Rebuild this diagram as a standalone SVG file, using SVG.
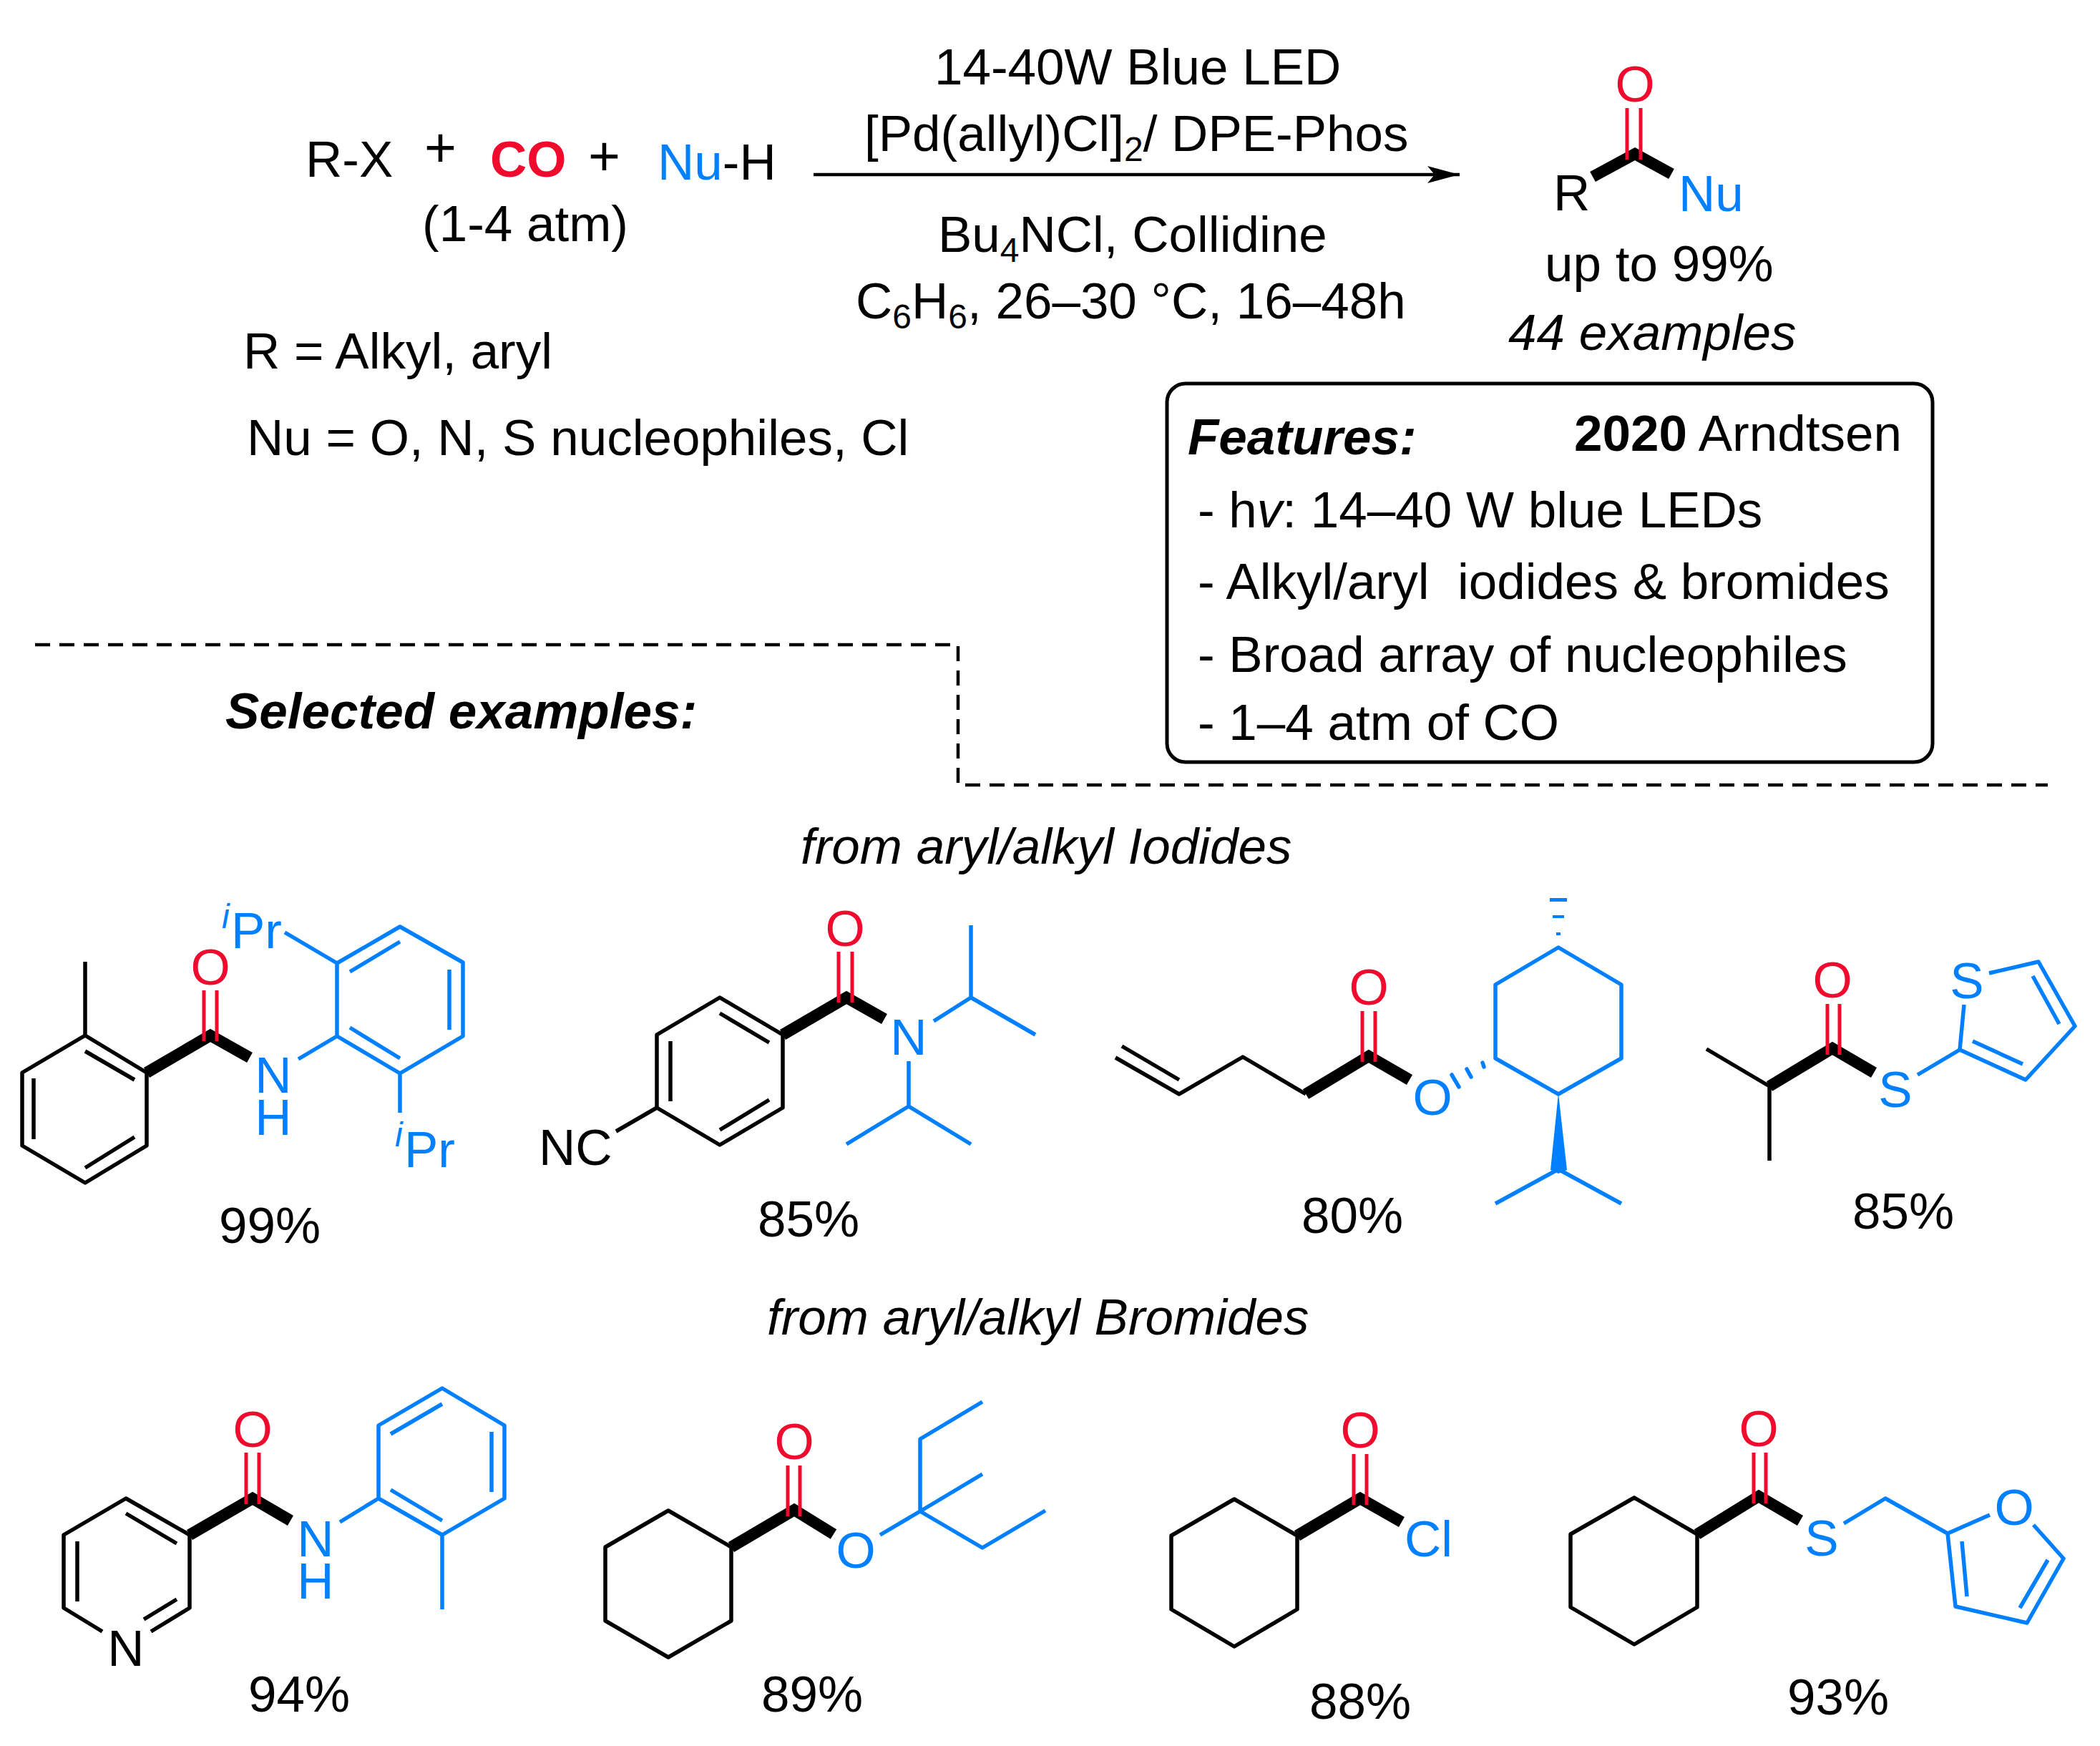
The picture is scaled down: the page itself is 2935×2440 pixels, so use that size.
<svg xmlns="http://www.w3.org/2000/svg" width="2935" height="2440" viewBox="0 0 2935 2440">
<defs><style>
text{font-family:"Liberation Sans",Arial,sans-serif;font-size:71px;fill:#000}
.r{fill:#ef0a2e}.b{fill:#0080ff}
.m{text-anchor:middle}
.i{font-style:italic}.B{font-weight:bold}
.s{font-size:48px}
.k,.l,.d,.h{fill:none;stroke-linejoin:round;stroke-linecap:butt}
.k{stroke:#000;stroke-width:5.5}
.l{stroke:#0080ff;stroke-width:5.5}
.d{stroke:#ef0a2e;stroke-width:5}
.h{stroke:#000;stroke-width:16;stroke-linejoin:miter}
.c{stroke-linecap:round}
</style>
<marker id="ah" markerUnits="userSpaceOnUse" markerWidth="46" markerHeight="26" refX="45" refY="13" orient="auto"><path d="M0 1L45 13L0 25L10 13Z" fill="#000"/></marker></defs>
<rect width="2935" height="2440" fill="#fff"/>
<g id="scheme">
<text x="427" y="247">R-X</text>
<text x="593" y="233" style="font-size:77px">+</text>
<text x="685" y="247" class="r B">CO</text>
<text x="822" y="245" style="font-size:77px">+</text>
<text x="919" y="251"><tspan class="b">Nu</tspan>-H</text>
<text x="590" y="337">(1-4 atm)</text>
<text x="340" y="515">R = Alkyl, aryl</text>
<text x="345" y="636">Nu = O, N, S nucleophiles, Cl</text>
<text x="1306" y="118">14-40W Blue LED</text>
<text x="1208" y="211">[Pd(allyl)Cl]<tspan class="s" dy="14">2</tspan><tspan dy="-14">/ DPE-Phos</tspan></text>
<text x="1311" y="352">Bu<tspan class="s" dy="14">4</tspan><tspan dy="-14">NCl, Collidine</tspan></text>
<text x="1196" y="445">C<tspan class="s" dy="14">6</tspan><tspan dy="-14">H</tspan><tspan class="s" dy="14">6</tspan><tspan dy="-14">, 26–30 °C, 16–48h</tspan></text>
<line id="arrow" x1="1137" y1="244" x2="2040" y2="244" stroke="#000" stroke-width="4.5" marker-end="url(#ah)"/>
<text x="315" y="1018" class="B i">Selected examples:</text>
<text x="1119" y="1207" class="i">from aryl/alkyl Iodides</text>
<text x="1072" y="1865" class="i">from aryl/alkyl Bromides</text>
<path id="divider" d="M49 901H1339V1097H2862" fill="none" stroke="#000" stroke-width="4.5" stroke-dasharray="21 13"/>
</g>
<g id="product">
<path class="h" d="M2226 247L2285 215L2336 243"/>
<path class="d" d="M2274 151V223M2293 151V223"/>
<text x="2285" y="142" class="r m">O</text>
<text x="2171" y="294">R</text>
<text x="2346" y="295" class="b">Nu</text>
<text x="2159" y="393">up to 99%</text>
<text x="2108" y="489" class="i">44 examples</text>
</g>
<g id="features">
<rect x="1631" y="536" width="1070" height="529" rx="26" fill="none" stroke="#000" stroke-width="5"/>
<text x="1660" y="635" class="B i">Features:</text>
<text x="2200" y="630"><tspan class="B">2020</tspan> Arndtsen</text>
<text x="1674" y="737">- h<tspan class="i">v</tspan>: 14–40 W blue LEDs</text>
<text x="1674" y="837" xml:space="preserve">- Alkyl/aryl  iodides &amp; bromides</text>
<text x="1674" y="939">- Broad array of nucleophiles</text>
<text x="1674" y="1034">- 1–4 atm of CO</text>
</g>
<g id="mol1">
<path class="k" d="M119 1447L205 1499V1601L119 1653L31 1601V1499ZM119 1469L188 1509M47 1507V1592M119 1632L188 1589M119 1447V1344"/>
<path class="h" d="M205 1499L294 1447L349 1478"/>
<path class="d" d="M285 1384V1455M303 1384V1455"/>
<text x="294" y="1376" class="r m">O</text>
<text class="b m"><tspan x="382" y="1527">N</tspan><tspan x="382" y="1586">H</tspan></text>
<path class="l" d="M417 1480L471 1448M471 1346L559 1295L647 1345V1448L559 1500L471 1448ZM489 1358L559 1316M628 1355V1439M489 1436L559 1479M398 1303L471 1346M559 1500V1555"/>
<text class="b"><tspan x="310" y="1297" class="i s">i</tspan><tspan x="323" y="1325">Pr</tspan></text>
<text class="b"><tspan x="552" y="1602" class="i s">i</tspan><tspan x="565" y="1631">Pr</tspan></text>
<text x="306" y="1737">99%</text>
</g>
<g id="mol2">
<path class="k" d="M1006 1394L1094 1446V1548L1006 1600L918 1548V1446ZM1006 1416L1075 1457M937 1455V1539M1006 1579L1075 1537M861 1581L918 1548"/>
<text x="753" y="1628">NC</text>
<path class="h" d="M1094 1446L1183 1394L1236 1424"/>
<path class="d" d="M1172 1330V1401M1191 1330V1401"/>
<text x="1181" y="1322" class="r m">O</text>
<text x="1270" y="1474" class="b m">N</text>
<path class="l" d="M1305 1427L1357 1394V1293M1357 1394L1447 1446M1270 1483V1546M1183 1599L1270 1546L1357 1599"/>
<text x="1059" y="1728">85%</text>
</g>
<g id="mol3">
<path class="k" d="M1559 1478L1648 1529L1737 1477L1825 1529M1568 1462L1648 1509"/>
<path class="h" d="M1825 1529L1913 1476L1970 1509"/>
<path class="d" d="M1904 1413V1484M1922 1413V1484"/>
<text x="1913" y="1404" class="r m">O</text>
<text x="2002" y="1558" class="b m">O</text>
<path class="l" d="M2178 1324L2266 1376V1479L2178 1529L2090 1479V1376ZM2178 1634L2090 1682M2178 1634L2266 1682"/>
<path class="l c" d="M2029 1502L2039 1519M2050 1494L2056 1505M2072 1485L2074 1491"/>
<path class="b" d="M2166 1255H2190V1260H2166ZM2170 1279H2186V1283H2170ZM2175 1303H2181V1307H2175ZM2178 1528L2190 1635L2178 1640L2167 1635Z"/>
<text x="1819" y="1723">80%</text>
</g>
<g id="mol4">
<path class="k" d="M2385 1466L2473 1518V1622"/>
<path class="h" d="M2473 1518L2561 1465L2619 1499"/>
<path class="d" d="M2554 1403V1474M2571 1403V1474"/>
<text x="2561" y="1394" class="r m">O</text>
<text x="2649" y="1547" class="b m">S</text>
<text x="2749" y="1395" class="b m">S</text>
<path class="l" d="M2680 1502L2739 1467L2745 1404M2780 1360L2849 1344L2900 1434L2831 1509L2739 1467M2841 1364L2878 1431M2757 1455L2827 1487"/>
<text x="2589" y="1717">85%</text>
</g>
<g id="mol5">
<path class="k" d="M211 2280L265 2247V2145L176 2094L89 2145V2247L143 2280M176 2115L247 2157M108 2154V2238M247 2235L201 2263"/>
<text x="176" y="2328" class="m">N</text>
<path class="h" d="M265 2145L353 2094L406 2125"/>
<path class="d" d="M344 2030V2102M362 2030V2102"/>
<text x="353" y="2022" class="r m">O</text>
<text class="b m"><tspan x="441" y="2175">N</tspan><tspan x="441" y="2234">H</tspan></text>
<path class="l" d="M475 2127L529 2094M529 2094V1992L618 1940L705 1992V2094L618 2145ZM546 2004L618 1962M687 2001V2085M546 2082L618 2125M618 2145V2249"/>
<text x="347" y="2392">94%</text>
</g>
<g id="mol6">
<path class="k" d="M934 2111L1022 2162V2265L934 2316L846 2265V2162Z"/>
<path class="h" d="M1022 2162L1110 2110L1165 2144"/>
<path class="d" d="M1101 2048V2119M1118 2048V2119"/>
<text x="1110" y="2039" class="r m">O</text>
<text x="1196" y="2191" class="b m">O</text>
<path class="l" d="M1230 2145L1286 2112V2011L1373 1959M1286 2112L1373 2060M1286 2112L1373 2163L1461 2111"/>
<text x="1064" y="2392">89%</text>
</g>
<g id="mol7">
<path class="k" d="M1725 2095L1813 2146V2249L1725 2301L1637 2249V2146Z"/>
<path class="h" d="M1813 2146L1901 2094L1959 2127"/>
<path class="d" d="M1892 2032V2103M1910 2032V2103"/>
<text x="1901" y="2023" class="r m">O</text>
<text x="1963" y="2175" class="b">Cl</text>
<text x="1830" y="2402">88%</text>
</g>
<g id="mol8">
<path class="k" d="M2284 2093L2372 2144V2246L2284 2298L2195 2246V2144Z"/>
<path class="h" d="M2372 2144L2458 2091L2516 2125"/>
<path class="d" d="M2451 2030V2101M2468 2030V2101"/>
<text x="2458" y="2021" class="r m">O</text>
<text x="2546" y="2174" class="b m">S</text>
<text x="2815" y="2131" class="b m">O</text>
<path class="l" d="M2577 2129L2635 2094L2722 2143L2781 2117M2842 2131L2884 2178L2833 2268L2733 2245L2722 2143M2862 2180L2823 2247M2742 2154L2749 2231"/>
<text x="2498" y="2396">93%</text>
</g>
</svg>
